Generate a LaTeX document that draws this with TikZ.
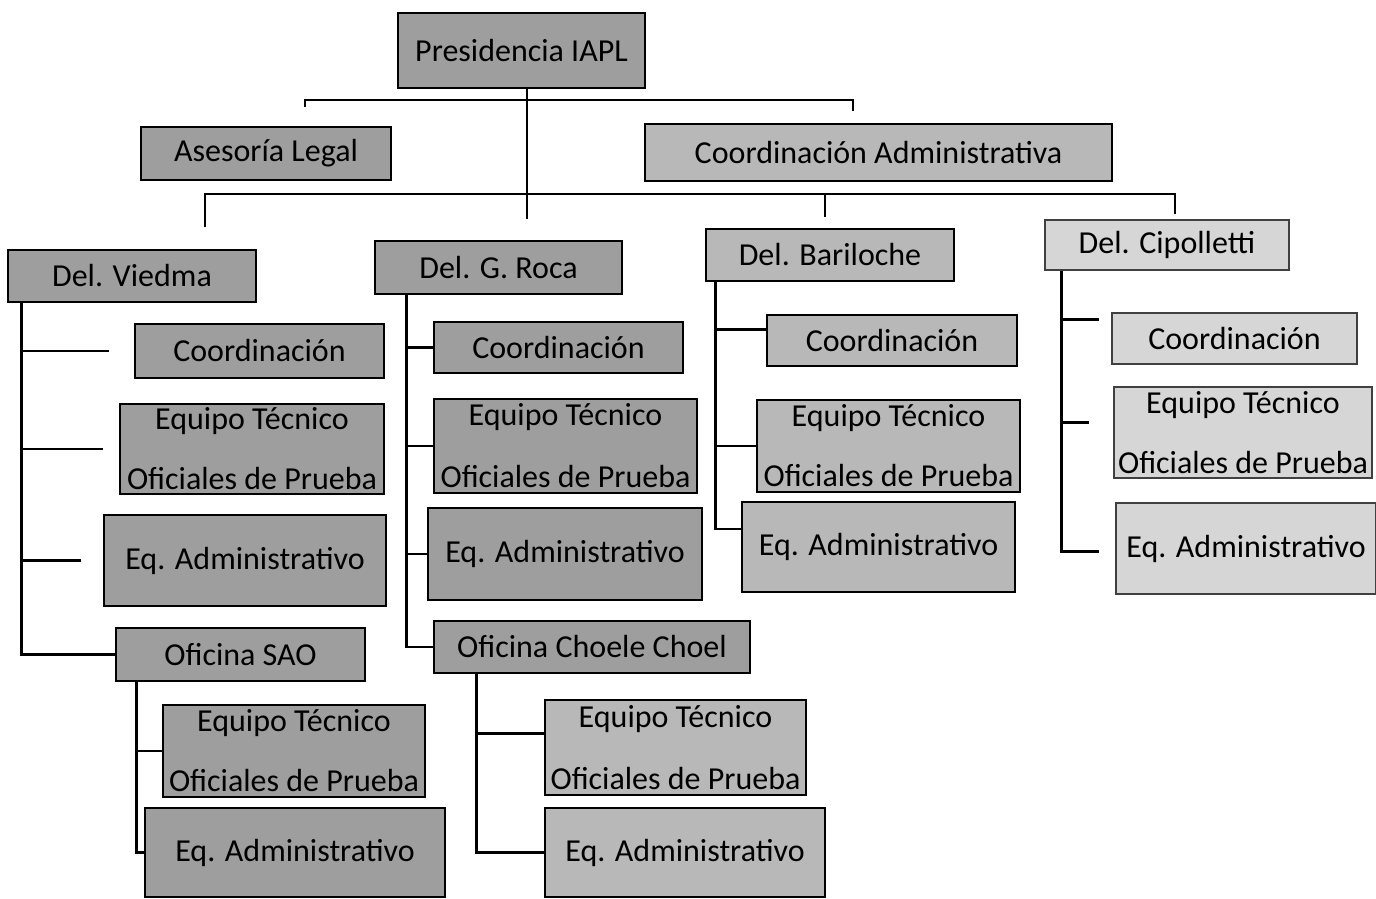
\documentclass[tikz,border=0pt]{standalone}
\usepackage{fontspec}
\setmainfont{Carlito}
\tikzset{
  unidad/.style={draw=black, line width=1.6pt, fill=black!38, inner sep=0pt,
    font=\fontsize{32}{36}\selectfont, align=center},
  media/.style={unidad, fill=black!28},
  clara/.style={unidad, fill=black!16, draw=black!75},
  enlace/.style={line width=2.6pt},
}
\begin{document}
\begin{tikzpicture}[x=1pt, y=-1pt]
        \useasboundingbox (0,0) rectangle (1376,899);

        % ~~~~ Presidencia y asesores ~~~~%
        \node[unidad, minimum width=247, minimum height=75] (pres) at (521.5,50.5) {Presidencia IAPL};
        \node[unidad, minimum width=250, minimum height=53] (ase) at (266,153.5) {Asesoría Legal};
        \node[media, minimum width=467, minimum height=57] (cadm) at (878.5,152.5) {Coordinación Administrativa};

        % ~~~~ Delegaciones ~~~~%
        \node[unidad, minimum width=248, minimum height=52] (vied) at (132,276) {Del. Viedma};
        \node[unidad, minimum width=247, minimum height=53] (roca) at (498.5,267.5) {Del. G. Roca};
        \node[media, minimum width=248, minimum height=52] (bari) at (830,255) {Del. Bariloche};
        \node[clara, minimum width=244, minimum height=50] (cipo) at (1167,245) {Del. Cipolletti};

        % ~~~~ Del. Viedma ~~~~%
        \node[unidad, minimum width=249, minimum height=54] (vcoord) at (259.5,351) {Coordinación};
        \node[unidad, minimum width=264, minimum height=90] (vtec) at (252,449) {Equipo Técnico\\[24pt]Oficiales de Prueba};
        \node[unidad, minimum width=282, minimum height=91] (vadm) at (245,560.5) {Eq. Administrativo};
        \node[unidad, minimum width=249, minimum height=53] (vsao) at (240.5,654.5) {Oficina SAO};
        \node[unidad, minimum width=262, minimum height=92] (stec) at (294,751) {Equipo Técnico\\[24pt]Oficiales de Prueba};
        \node[unidad, minimum width=300, minimum height=89] (sadm) at (295,852.5) {Eq. Administrativo};

        % ~~~~ Del. G. Roca ~~~~%
        \node[unidad, minimum width=249, minimum height=51] (rcoord) at (558.5,347.5) {Coordinación};
        \node[unidad, minimum width=263, minimum height=94] (rtec) at (565.5,446) {Equipo Técnico\\[26pt]Oficiales de Prueba};
        \node[unidad, minimum width=274, minimum height=92] (radm) at (565,554) {Eq. Administrativo};
        \node[unidad, minimum width=316, minimum height=52] (rcho) at (592,647) {Oficina Choele Choel};
        \node[media, minimum width=261, minimum height=95] (ctec) at (675.5,747.5) {Equipo Técnico\\[26pt]Oficiales de Prueba};
        \node[media, minimum width=280, minimum height=89] (cadm2) at (685,852.5) {Eq. Administrativo};

        % ~~~~ Del. Bariloche ~~~~%
        \node[media, minimum width=250, minimum height=51] (bcoord) at (892,340.5) {Coordinación};
        \node[media, minimum width=263, minimum height=92] (btec) at (888.5,446) {Equipo Técnico\\[24pt]Oficiales de Prueba};
        \node[media, minimum width=273, minimum height=90] (badm) at (878.5,547) {Eq. Administrativo};

        % ~~~~ Del. Cipolletti ~~~~%
        \node[clara, minimum width=245, minimum height=51] (kcoord) at (1234.5,338.5) {Coordinación};
        \node[clara, minimum width=258, minimum height=91] (ktec) at (1243,432.5) {Equipo Técnico\\[24pt]Oficiales de Prueba};
        \node[clara, minimum width=260, minimum height=91] (kadm) at (1246,548.5) {Eq. Administrativo};

        % ~~~~ Lineas superiores ~~~~%
        \coordinate (ptop) at ([xshift=5.5]pres.south);
        \coordinate (busA) at (527,100);
        \coordinate (busB) at (527,194);
        \draw[enlace, shorten >=21] (ptop) -- (roca.north -| ptop);
        \draw[enlace, shorten >=19] (busA) -| ([xshift=39]ase.north);
        \draw[enlace, shorten >=12] (busA) -| ([xshift=-25.5]cadm.north);
        \draw[enlace, shorten >=22] (busB) -| ([xshift=73]vied.north);
        \draw[enlace, shorten >=11] (busB) -| ([xshift=-5]bari.north);
        \draw[enlace, shorten >=5] (busB) -| ([xshift=8]cipo.north);

        % ~~~~ Ramas de cada delegacion ~~~~%
        \coordinate (vtop) at ([xshift=14]vied.south west);
        \draw[enlace, shorten >=25] (vtop) |- (vcoord.west);
        \draw[enlace, shorten >=16] (vtop) |- (vtec.west);
        \draw[enlace, shorten >=22] (vtop) |- (vadm.west);
        \draw[enlace] (vtop) |- (vsao.west);

        \coordinate (stop) at ([xshift=21]vsao.south west);
        \draw[enlace] (stop) |- (stec.west);
        \draw[enlace] (stop) |- (sadm.west);

        \coordinate (rtop) at ([xshift=32]roca.south west);
        \draw[enlace] (rtop) |- (rcoord.west);
        \draw[enlace] (rtop) |- (rtec.west);
        \draw[enlace] (rtop) |- (radm.west);
        \draw[enlace] (rtop) |- (rcho.west);

        \coordinate (ctop) at ([xshift=43]rcho.south west);
        \draw[enlace] (ctop) |- ([yshift=14]ctec.west);
        \draw[enlace] (ctop) |- (cadm2.west);

        \coordinate (btop) at ([xshift=10]bari.south west);
        \draw[enlace] (btop) |- ([yshift=11]bcoord.west);
        \draw[enlace] (btop) |- (btec.west);
        \draw[enlace] (btop) |- ([yshift=18]badm.west);

        \coordinate (ktop) at ([xshift=17]cipo.south west);
        \draw[enlace, shorten >=12] (ktop) |- ([yshift=19]kcoord.west);
        \draw[enlace, shorten >=24] (ktop) |- ([yshift=10]ktec.west);
        \draw[enlace, shorten >=16] (ktop) |- ([yshift=-3]kadm.west);
    \end{tikzpicture}
\end{document}
